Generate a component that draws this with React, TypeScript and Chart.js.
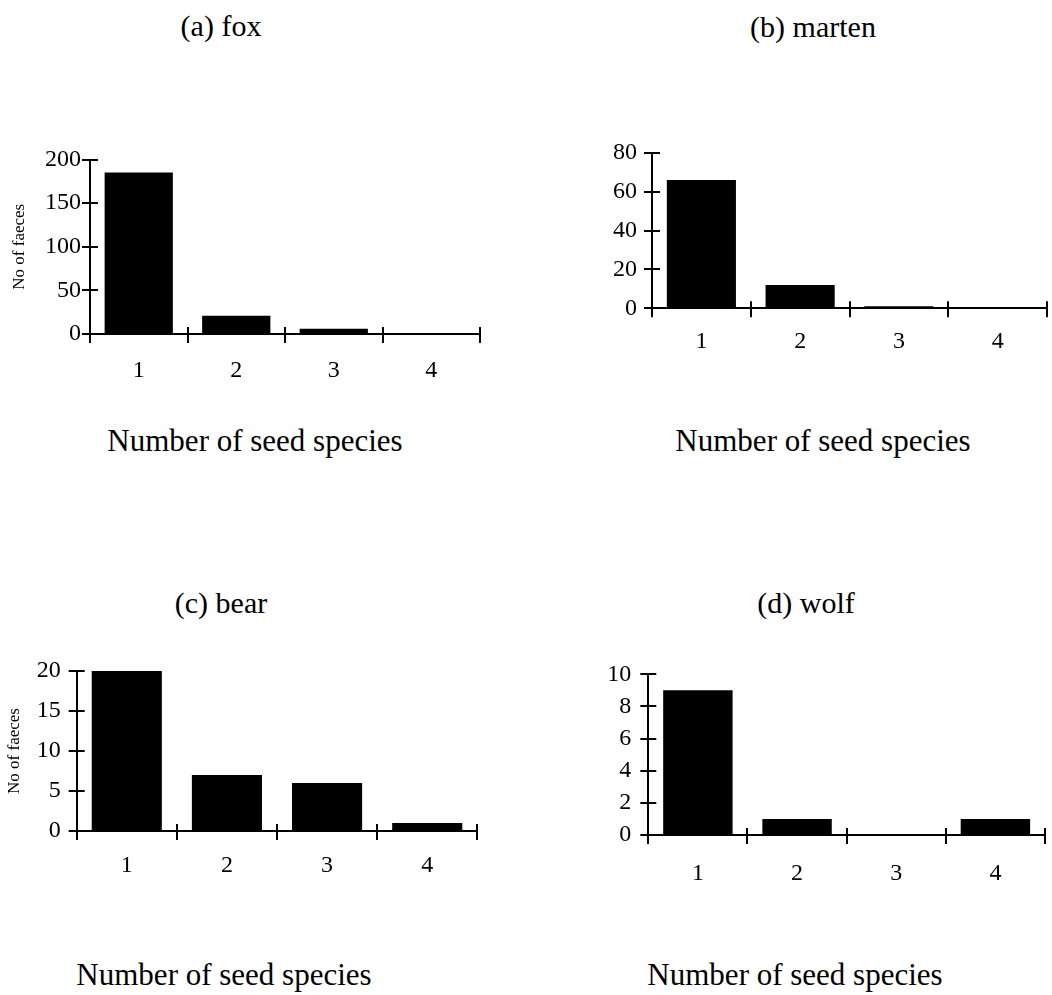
import React, { useEffect, useRef } from "react";
import { Chart, registerables } from "chart.js";

Chart.register(...registerables);

// ---------- data ----------
const categories = ["1", "2", "3", "4"];
const foxValues = [185, 21, 6, 1];
const martenValues = [66, 12, 1, 0];
const bearValues = [20, 7, 6, 1];
const wolfValues = [9, 1, 0, 1];

const foxTicks = [0, 50, 100, 150, 200];
const martenTicks = [0, 20, 40, 60, 80];
const bearTicks = [0, 5, 10, 15, 20];
const wolfTicks = [0, 2, 4, 6, 8, 10];

const panelTitles = ["(a) fox", "(b) marten", "(c) bear", "(d) wolf"];
const xAxisTitle = "Number of seed species";
const yAxisTitle = "No of faeces";

const FONT = "'Liberation Serif', 'Times New Roman', Times, serif";

// ---------- layout (page pixels) ----------
const panels = [
  {
    title: panelTitles[0], values: foxValues, ticks: foxTicks, yTitle: yAxisTitle,
    canvas: { left: 0, top: 120, width: 500, height: 270 },
    area: { left: 90, right: 480, top: 159.5, bottom: 334 },
    yPad: 9, xPad: 22, yTitlePad: 9.8,
    titlePos: { x: 221, y: 26 }, xTitlePos: { x: 255, y: 440 },
  },
  {
    title: panelTitles[1], values: martenValues, ticks: martenTicks, yTitle: "",
    canvas: { left: 526, top: 120, width: 526, height: 270 },
    area: { left: 652, right: 1047, top: 152.7, bottom: 308.3 },
    yPad: 15, xPad: 19, yTitlePad: 0,
    titlePos: { x: 813, y: 27 }, xTitlePos: { x: 823, y: 440 },
  },
  {
    title: panelTitles[2], values: bearValues, ticks: bearTicks, yTitle: yAxisTitle,
    canvas: { left: 0, top: 630, width: 500, height: 270 },
    area: { left: 76.7, right: 477.3, top: 671, bottom: 831 },
    yPad: 16, xPad: 20, yTitlePad: 4.8,
    titlePos: { x: 221, y: 603 }, xTitlePos: { x: 224, y: 974 },
  },
  {
    title: panelTitles[3], values: wolfValues, ticks: wolfTicks, yTitle: "",
    canvas: { left: 526, top: 630, width: 526, height: 270 },
    area: { left: 648.3, right: 1045, top: 674.3, bottom: 835 },
    yPad: 17, xPad: 24, yTitlePad: 0,
    titlePos: { x: 806, y: 603 }, xTitlePos: { x: 795, y: 974 },
  },
];

const crossTicks = {
  id: "crossTicks",
  afterDatasetsDraw(chart: any) {
    const { ctx, chartArea, scales } = chart;
    const x = scales.x;
    const y = scales.y;
    ctx.save();
    ctx.strokeStyle = "#000";
    ctx.lineWidth = 2;
    ctx.beginPath();
    for (const t of y.ticks) {
      const py = Math.round(y.getPixelForValue(t.value));
      ctx.moveTo(chartArea.left - 8, py);
      ctx.lineTo(chartArea.left + 8, py);
    }
    for (let i = 0; i <= x.ticks.length; i++) {
      const px = Math.round(x.getPixelForValue(i - 0.5));
      ctx.moveTo(px, chartArea.bottom - 7);
      ctx.lineTo(px, chartArea.bottom + 9);
    }
    ctx.stroke();
    ctx.restore();
  },
};

function Panel({ p }: { p: any }) {
  const ref = useRef<HTMLCanvasElement | null>(null);
  useEffect(() => {
    if (!ref.current) return;
    const yWidth = p.area.left - p.canvas.left;
    const xHeight = p.canvas.top + p.canvas.height - p.area.bottom;
    const chart = new Chart(ref.current, {
      type: "bar",
      data: {
        labels: categories,
        datasets: [
          {
            data: p.values,
            backgroundColor: "#000",
            borderWidth: 0,
            barPercentage: 0.7,
            categoryPercentage: 1,
          },
        ],
      },
      options: {
        responsive: false,
        animation: false,
        devicePixelRatio: 1,
        layout: {
          padding: {
            left: 0,
            top: p.area.top - p.canvas.top,
            right: p.canvas.left + p.canvas.width - p.area.right,
            bottom: 0,
          },
        },
        plugins: {
          legend: { display: false },
          tooltip: { enabled: false },
          title: { display: false },
        },
        scales: {
          x: {
            type: "category",
            offset: true,
            grid: { display: false, drawTicks: false, tickLength: 0 },
            border: { display: true, color: "#000", width: 2 },
            ticks: {
              color: "#000",
              padding: p.xPad,
              maxRotation: 0,
              font: { family: FONT, size: 24 },
            },
            afterFit: (scale: any) => {
              scale.height = xHeight;
            },
          },
          y: {
            type: "linear",
            min: p.ticks[0],
            max: p.ticks[p.ticks.length - 1],
            grid: { display: false, drawTicks: false, tickLength: 0 },
            border: { display: true, color: "#000", width: 2 },
            ticks: {
              color: "#000",
              padding: p.yPad,
              font: { family: FONT, size: 24 },
            },
            afterBuildTicks: (scale: any) => {
              scale.ticks = p.ticks.map((v: number) => ({ value: v }));
            },
            title: {
              display: !!p.yTitle,
              text: p.yTitle,
              color: "#000",
              font: { family: FONT, size: 17 },
              padding: { top: p.yTitlePad, bottom: 0 },
            },
            afterFit: (scale: any) => {
              scale.width = yWidth;
            },
          },
        },
      },
      plugins: [crossTicks],
    });
    return () => chart.destroy();
  }, [p]);

  return (
    <canvas
      ref={ref}
      width={p.canvas.width}
      height={p.canvas.height}
      style={{
        position: "absolute",
        left: p.canvas.left,
        top: p.canvas.top,
        width: p.canvas.width,
        height: p.canvas.height,
        display: "block",
      }}
    />
  );
}

function Label({ text, x, y, size }: { text: string; x: number; y: number; size: number }) {
  return (
    <div
      style={{
        position: "absolute",
        left: x,
        top: y,
        transform: "translate(-50%, -50%)",
        fontFamily: FONT,
        fontSize: size,
        lineHeight: 1,
        whiteSpace: "nowrap",
        color: "#000",
      }}
    >
      {text}
    </div>
  );
}

export default function App() {
  return (
    <div
      style={{
        position: "absolute",
        left: 0,
        top: 0,
        width: 1052,
        height: 995,
        background: "#fff",
        overflow: "hidden",
      }}
    >
      {panels.map((p, i) => (
        <React.Fragment key={i}>
          <Label text={p.title} x={p.titlePos.x} y={p.titlePos.y} size={30} />
          <Panel p={p} />
          <Label text={xAxisTitle} x={p.xTitlePos.x} y={p.xTitlePos.y} size={31} />
        </React.Fragment>
      ))}
    </div>
  );
}
